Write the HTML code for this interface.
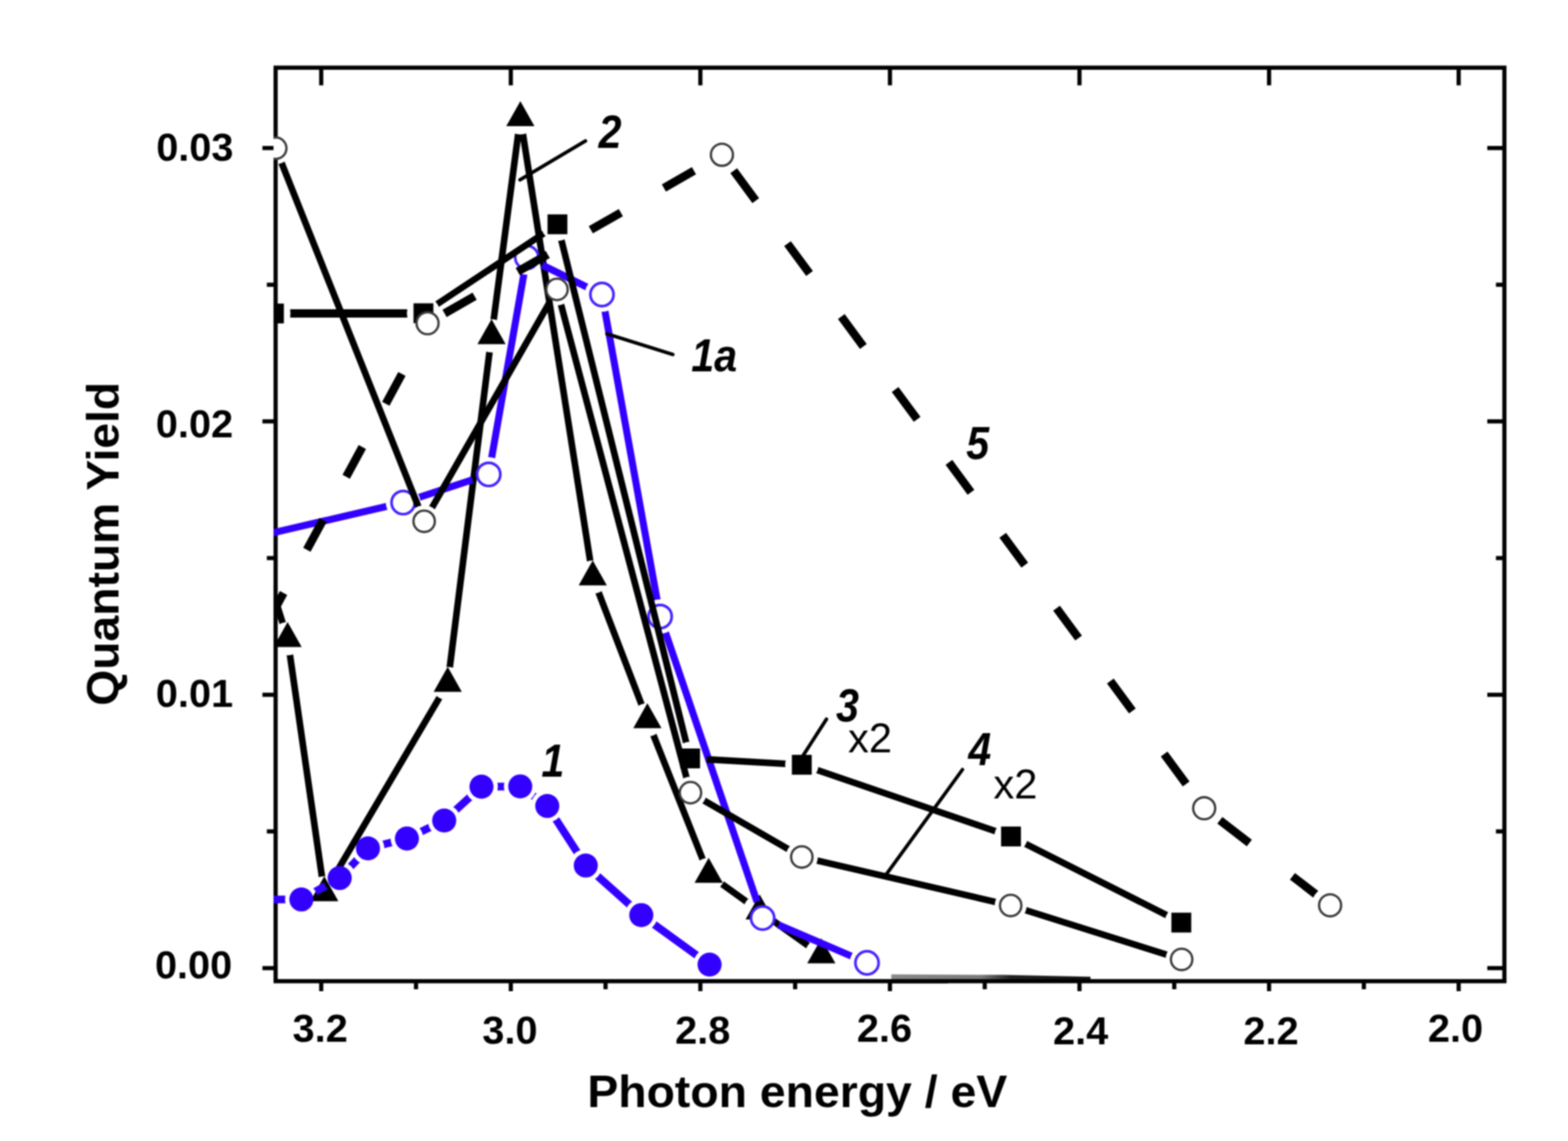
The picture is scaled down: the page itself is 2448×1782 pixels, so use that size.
<!DOCTYPE html><html><head><meta charset="utf-8"><title>Quantum Yield vs Photon energy</title><style>html,body{margin:0;padding:0;background:#fff;}svg{display:block;filter:blur(0.9px);}</style></head><body>
<svg width="2448" height="1782" viewBox="0 0 2448 1782">
<defs>
<clipPath id="pc"><rect x="427" y="102" width="1925" height="1434"/></clipPath>
<mask id="m1" maskUnits="userSpaceOnUse" x="0" y="0" width="2448" height="1782"><rect x="0" y="0" width="2448" height="1782" fill="#fff"/>
<circle cx="395.0" cy="1404.5" r="25.5" fill="#000"/>
<circle cx="470.5" cy="1404.8" r="25.5" fill="#000"/>
<circle cx="530.3" cy="1371.3" r="25.5" fill="#000"/>
<circle cx="574.5" cy="1325.0" r="25.5" fill="#000"/>
<circle cx="635.3" cy="1309.6" r="25.5" fill="#000"/>
<circle cx="693.5" cy="1281.5" r="25.5" fill="#000"/>
<circle cx="751.7" cy="1228.6" r="25.5" fill="#000"/>
<circle cx="812.2" cy="1228.2" r="25.5" fill="#000"/>
<circle cx="854.4" cy="1258.8" r="25.5" fill="#000"/>
<circle cx="914.5" cy="1351.8" r="25.5" fill="#000"/>
<circle cx="1001.2" cy="1429.2" r="25.5" fill="#000"/>
<circle cx="1107.8" cy="1506.5" r="25.5" fill="#000"/>
</mask>
<mask id="m1a" maskUnits="userSpaceOnUse" x="0" y="0" width="2448" height="1782"><rect x="0" y="0" width="2448" height="1782" fill="#fff"/>
<circle cx="380.0" cy="842.8" r="27.0" fill="#000"/>
<circle cx="629.4" cy="784.9" r="27.0" fill="#000"/>
<circle cx="763.0" cy="740.9" r="27.0" fill="#000"/>
<circle cx="822.5" cy="402.0" r="27.0" fill="#000"/>
<circle cx="939.8" cy="460.0" r="27.0" fill="#000"/>
<circle cx="1030.6" cy="962.9" r="27.0" fill="#000"/>
<circle cx="1190.6" cy="1433.8" r="27.0" fill="#000"/>
<circle cx="1353.6" cy="1503.7" r="27.0" fill="#000"/>
</mask>
<mask id="m2" maskUnits="userSpaceOnUse" x="0" y="0" width="2448" height="1782"><rect x="0" y="0" width="2448" height="1782" fill="#fff"/>
<circle cx="400.0" cy="842.0" r="26.0" fill="#000"/>
<circle cx="449.0" cy="997.5" r="26.0" fill="#000"/>
<circle cx="506.3" cy="1394.4" r="26.0" fill="#000"/>
<circle cx="699.0" cy="1067.5" r="26.0" fill="#000"/>
<circle cx="767.4" cy="524.5" r="26.0" fill="#000"/>
<circle cx="812.4" cy="184.0" r="26.0" fill="#000"/>
<circle cx="925.4" cy="901.3" r="26.0" fill="#000"/>
<circle cx="1010.7" cy="1124.2" r="26.0" fill="#000"/>
<circle cx="1106.4" cy="1365.8" r="26.0" fill="#000"/>
<circle cx="1186.0" cy="1423.0" r="26.0" fill="#000"/>
<circle cx="1282.3" cy="1491.6" r="26.0" fill="#000"/>
</mask>
<mask id="m3" maskUnits="userSpaceOnUse" x="0" y="0" width="2448" height="1782"><rect x="0" y="0" width="2448" height="1782" fill="#fff"/>
<circle cx="427.7" cy="489.6" r="26.0" fill="#000"/>
<circle cx="661.1" cy="489.2" r="26.0" fill="#000"/>
<circle cx="870.3" cy="350.3" r="26.0" fill="#000"/>
<circle cx="1077.4" cy="1184.5" r="26.0" fill="#000"/>
<circle cx="1251.8" cy="1194.4" r="26.0" fill="#000"/>
<circle cx="1578.4" cy="1306.4" r="26.0" fill="#000"/>
<circle cx="1844.3" cy="1440.9" r="26.0" fill="#000"/>
</mask>
<mask id="m4" maskUnits="userSpaceOnUse" x="0" y="0" width="2448" height="1782"><rect x="0" y="0" width="2448" height="1782" fill="#fff"/>
<circle cx="430.5" cy="231.5" r="25.0" fill="#000"/>
<circle cx="662.2" cy="814.2" r="25.0" fill="#000"/>
<circle cx="869.6" cy="452.0" r="25.0" fill="#000"/>
<circle cx="1078.0" cy="1238.0" r="25.0" fill="#000"/>
<circle cx="1251.8" cy="1338.4" r="25.0" fill="#000"/>
<circle cx="1577.9" cy="1414.2" r="25.0" fill="#000"/>
<circle cx="1844.8" cy="1498.4" r="25.0" fill="#000"/>
</mask>
<mask id="m5" maskUnits="userSpaceOnUse" x="0" y="0" width="2448" height="1782"><rect x="0" y="0" width="2448" height="1782" fill="#fff"/>
<circle cx="667.5" cy="504.8" r="29.0" fill="#000"/>
<circle cx="1127.1" cy="241.7" r="29.0" fill="#000"/>
<circle cx="1880.0" cy="1262.3" r="29.0" fill="#000"/>
<circle cx="2076.6" cy="1413.9" r="29.0" fill="#000"/>
</mask>
</defs>
<rect x="0" y="0" width="2448" height="1782" fill="#fff"/>
<g clip-path="url(#pc)">
<defs><linearGradient id="gl" x1="1391" y1="0" x2="1703" y2="0" gradientUnits="userSpaceOnUse"><stop offset="0" stop-color="#8a8a8a"/><stop offset="0.45" stop-color="#7a7a7a"/><stop offset="0.6" stop-color="#222"/><stop offset="1" stop-color="#111"/></linearGradient></defs>
<path d="M1391.5 1521.8 L1565 1522.6 L1702.5 1525.4 L1702.5 1530 L1391.5 1530 Z" fill="url(#gl)"/>
<path d="M1391.5 1534 L1480 1534 L1480 1536.5 L1391.5 1538.5 Z" fill="#222"/>
</g>
<g stroke="#000" stroke-width="6.5" fill="none" stroke-linecap="butt">
<rect x="430.3" y="105.7" width="1918.4" height="1426.7" stroke-linejoin="miter"/>
<line x1="501.5" y1="1532.4" x2="501.5" y2="1548"/>
<line x1="501.5" y1="105.7" x2="501.5" y2="133.3"/>
<line x1="649.5" y1="1532.4" x2="649.5" y2="1545"/>
<line x1="797.5" y1="1532.4" x2="797.5" y2="1548"/>
<line x1="797.5" y1="105.7" x2="797.5" y2="133.3"/>
<line x1="945.4" y1="1532.4" x2="945.4" y2="1545"/>
<line x1="1093.4" y1="1532.4" x2="1093.4" y2="1548"/>
<line x1="1093.4" y1="105.7" x2="1093.4" y2="133.3"/>
<line x1="1241.4" y1="1532.4" x2="1241.4" y2="1545"/>
<line x1="1389.4" y1="1532.4" x2="1389.4" y2="1548"/>
<line x1="1389.4" y1="105.7" x2="1389.4" y2="133.3"/>
<line x1="1537.4" y1="1532.4" x2="1537.4" y2="1545"/>
<line x1="1685.3" y1="1532.4" x2="1685.3" y2="1548"/>
<line x1="1685.3" y1="105.7" x2="1685.3" y2="133.3"/>
<line x1="1833.3" y1="1532.4" x2="1833.3" y2="1545"/>
<line x1="1981.3" y1="1532.4" x2="1981.3" y2="1548"/>
<line x1="1981.3" y1="105.7" x2="1981.3" y2="133.3"/>
<line x1="2129.3" y1="1532.4" x2="2129.3" y2="1545"/>
<line x1="2277.3" y1="1532.4" x2="2277.3" y2="1548"/>
<line x1="2277.3" y1="105.7" x2="2277.3" y2="133.3"/>
<line x1="409.7" y1="1512.0" x2="430.3" y2="1512.0"/>
<line x1="2322" y1="1512.0" x2="2348.7" y2="1512.0"/>
<line x1="416.6" y1="1298.5" x2="430.3" y2="1298.5"/>
<line x1="2335.5" y1="1298.5" x2="2348.7" y2="1298.5"/>
<line x1="409.7" y1="1085.1" x2="430.3" y2="1085.1"/>
<line x1="2322" y1="1085.1" x2="2348.7" y2="1085.1"/>
<line x1="416.6" y1="871.6" x2="430.3" y2="871.6"/>
<line x1="2335.5" y1="871.6" x2="2348.7" y2="871.6"/>
<line x1="409.7" y1="658.1" x2="430.3" y2="658.1"/>
<line x1="2322" y1="658.1" x2="2348.7" y2="658.1"/>
<line x1="416.6" y1="444.7" x2="430.3" y2="444.7"/>
<line x1="2335.5" y1="444.7" x2="2348.7" y2="444.7"/>
<line x1="409.7" y1="231.2" x2="430.3" y2="231.2"/>
<line x1="2322" y1="231.2" x2="2348.7" y2="231.2"/>
</g>
<g font-family="Liberation Sans, Arial, sans-serif" font-weight="bold" font-size="62" fill="#000">
<text x="456.7" y="1627.0">3.2</text>
<text x="753.0" y="1630.1">3.0</text>
<text x="1054.1" y="1630.1">2.8</text>
<text x="1337.7" y="1627.0">2.6</text>
<text x="1644.0" y="1630.7">2.4</text>
<text x="1941.2" y="1630.7">2.2</text>
<text x="2229.3" y="1627.0">2.0</text>
<text x="243.9" y="251.1">0.03</text>
<text x="243.3" y="682.8">0.02</text>
<text x="243.3" y="1103.8">0.01</text>
<text x="241.9" y="1528.2">0.00</text>
</g>
<text x="916.9" y="1729" font-family="Liberation Sans, Arial, sans-serif" font-weight="bold" font-size="71" textLength="655.6" lengthAdjust="spacingAndGlyphs" fill="#000">Photon energy / eV</text>
<text transform="translate(185,1102.3) rotate(-90)" x="0" y="0" font-family="Liberation Sans, Arial, sans-serif" font-weight="bold" font-size="71" textLength="506" lengthAdjust="spacingAndGlyphs" fill="#000">Quantum Yield</text>
<g clip-path="url(#pc)">
<polyline points="400.0,842.0 449.0,997.5 506.3,1394.4 699.0,1067.5 767.4,524.5 812.4,184.0 925.4,901.3 1010.7,1124.2 1106.4,1365.8 1186.0,1423.0 1282.3,1491.6" fill="none" stroke="#000" stroke-width="10.3" stroke-linejoin="miter" mask="url(#m2)"/>
<path d="M400.0 816.0L422.0 855.0L378.0 855.0Z" fill="#000"/>
<path d="M449.0 971.5L471.0 1010.5L427.0 1010.5Z" fill="#000"/>
<path d="M506.3 1368.4L528.3 1407.4L484.3 1407.4Z" fill="#000"/>
<path d="M699.0 1041.5L721.0 1080.5L677.0 1080.5Z" fill="#000"/>
<path d="M767.4 498.5L789.4 537.5L745.4 537.5Z" fill="#000"/>
<path d="M812.4 158.0L834.4 197.0L790.4 197.0Z" fill="#000"/>
<path d="M925.4 875.3L947.4 914.3L903.4 914.3Z" fill="#000"/>
<path d="M1010.7 1098.2L1032.7 1137.2L988.7 1137.2Z" fill="#000"/>
<path d="M1106.4 1339.8L1128.4 1378.8L1084.4 1378.8Z" fill="#000"/>
<path d="M1186.0 1397.0L1208.0 1436.0L1164.0 1436.0Z" fill="#000"/>
<path d="M1282.3 1465.6L1304.3 1504.6L1260.3 1504.6Z" fill="#000"/>
<polyline points="380.0,842.8 629.4,784.9 763.0,740.9 822.5,402.0 939.8,460.0 1030.6,962.9 1190.6,1433.8 1353.6,1503.7" fill="none" stroke="#3300ff" stroke-width="11" stroke-linejoin="miter" mask="url(#m1a)"/>
<circle cx="380.0" cy="842.8" r="18.1" fill="#fff" stroke="#4422ff" stroke-width="4.2"/>
<circle cx="629.4" cy="784.9" r="18.1" fill="#fff" stroke="#4422ff" stroke-width="4.2"/>
<circle cx="763.0" cy="740.9" r="18.1" fill="#fff" stroke="#4422ff" stroke-width="4.2"/>
<circle cx="822.5" cy="402.0" r="18.1" fill="#fff" stroke="#4422ff" stroke-width="4.2"/>
<circle cx="939.8" cy="460.0" r="18.1" fill="#fff" stroke="#4422ff" stroke-width="4.2"/>
<circle cx="1030.6" cy="962.9" r="18.1" fill="#fff" stroke="#4422ff" stroke-width="4.2"/>
<circle cx="1190.6" cy="1433.8" r="18.1" fill="#fff" stroke="#4422ff" stroke-width="4.2"/>
<circle cx="1353.6" cy="1503.7" r="18.1" fill="#fff" stroke="#4422ff" stroke-width="4.2"/>
<polyline points="430.5,231.5 662.2,814.2 869.6,452.0 1078.0,1238.0 1251.8,1338.4 1577.9,1414.2 1844.8,1498.4" fill="none" stroke="#000" stroke-width="10.3" stroke-linejoin="miter" mask="url(#m4)"/>
<polyline points="427.7,489.6 661.1,489.2 870.3,350.3 1077.4,1184.5 1251.8,1194.4 1578.4,1306.4 1844.3,1440.9" fill="none" stroke="#000" stroke-width="10.3" stroke-linejoin="miter" mask="url(#m3)"/>
<line x1="430" y1="489.6" x2="640" y2="489.4" stroke="#000" stroke-width="13" mask="url(#m3)"/>
<g stroke="#000" stroke-width="13" stroke-linecap="butt" mask="url(#m5)">
<line x1="417.5" y1="972.7" x2="442.7" y2="926.1"/>
<line x1="479.1" y1="858.7" x2="504.3" y2="812.1"/>
<line x1="540.5" y1="744.7" x2="565.7" y2="698.1"/>
<line x1="602.3" y1="630.6" x2="627.5" y2="584.0"/>
<line x1="694.1" y1="489.5" x2="741.0" y2="462.7"/><line x1="808.3" y1="424.2" x2="855.1" y2="397.4"/><line x1="922.4" y1="358.9" x2="969.3" y2="332.1"/><line x1="1036.5" y1="293.6" x2="1083.4" y2="266.7"/>
<line x1="1145.5" y1="266.6" x2="1179.9" y2="313.3"/><line x1="1229.5" y1="380.5" x2="1263.9" y2="427.2"/><line x1="1313.5" y1="494.4" x2="1347.9" y2="541.1"/><line x1="1397.5" y1="608.3" x2="1431.9" y2="654.9"/><line x1="1481.5" y1="722.1" x2="1515.9" y2="768.8"/><line x1="1565.5" y1="836.0" x2="1599.9" y2="882.7"/><line x1="1649.5" y1="949.9" x2="1683.9" y2="996.5"/><line x1="1733.5" y1="1063.7" x2="1767.9" y2="1110.4"/><line x1="1817.5" y1="1177.6" x2="1851.9" y2="1224.3"/>
<line x1="1904.5" y1="1281.2" x2="1950.5" y2="1316.6"/><line x1="2017.8" y1="1368.6" x2="2063.7" y2="1404.0"/>
</g>
<circle cx="430.5" cy="231.5" r="16.7" fill="#fff" stroke="#3a3a3a" stroke-width="3.6"/>
<circle cx="662.2" cy="814.2" r="16.7" fill="#fff" stroke="#3a3a3a" stroke-width="3.6"/>
<circle cx="869.6" cy="452.0" r="16.7" fill="#fff" stroke="#3a3a3a" stroke-width="3.6"/>
<circle cx="1078.0" cy="1238.0" r="16.7" fill="#fff" stroke="#3a3a3a" stroke-width="3.6"/>
<circle cx="1251.8" cy="1338.4" r="16.7" fill="#fff" stroke="#3a3a3a" stroke-width="3.6"/>
<circle cx="1577.9" cy="1414.2" r="16.7" fill="#fff" stroke="#3a3a3a" stroke-width="3.6"/>
<circle cx="1844.8" cy="1498.4" r="16.7" fill="#fff" stroke="#3a3a3a" stroke-width="3.6"/>
<rect x="412.2" y="474.1" width="31" height="31" fill="#000"/>
<rect x="645.6" y="473.7" width="31" height="31" fill="#000"/>
<rect x="854.8" y="334.8" width="31" height="31" fill="#000"/>
<rect x="1061.9" y="1169.0" width="31" height="31" fill="#000"/>
<rect x="1236.3" y="1178.9" width="31" height="31" fill="#000"/>
<rect x="1562.9" y="1290.9" width="31" height="31" fill="#000"/>
<rect x="1828.8" y="1425.4" width="31" height="31" fill="#000"/>
<circle cx="667.5" cy="504.8" r="17.2" fill="#fff" stroke="#3a3a3a" stroke-width="3.6"/>
<circle cx="1127.1" cy="241.7" r="17.2" fill="#fff" stroke="#3a3a3a" stroke-width="3.6"/>
<circle cx="1880.0" cy="1262.3" r="17.2" fill="#fff" stroke="#3a3a3a" stroke-width="3.6"/>
<circle cx="2076.6" cy="1413.9" r="17.2" fill="#fff" stroke="#3a3a3a" stroke-width="3.6"/>
<polyline points="395.0,1404.5 470.5,1404.8 530.3,1371.3 574.5,1325.0 635.3,1309.6 693.5,1281.5 751.7,1228.6 812.2,1228.2 854.4,1258.8 914.5,1351.8 1001.2,1429.2 1107.8,1506.5" fill="none" stroke="#3300ff" stroke-width="12" stroke-linejoin="miter" mask="url(#m1)"/>
<circle cx="395.0" cy="1404.5" r="18.8" fill="#3300ff"/>
<circle cx="470.5" cy="1404.8" r="18.8" fill="#3300ff"/>
<circle cx="530.3" cy="1371.3" r="18.8" fill="#3300ff"/>
<circle cx="574.5" cy="1325.0" r="18.8" fill="#3300ff"/>
<circle cx="635.3" cy="1309.6" r="18.8" fill="#3300ff"/>
<circle cx="693.5" cy="1281.5" r="18.8" fill="#3300ff"/>
<circle cx="751.7" cy="1228.6" r="18.8" fill="#3300ff"/>
<circle cx="812.2" cy="1228.2" r="18.8" fill="#3300ff"/>
<circle cx="854.4" cy="1258.8" r="18.8" fill="#3300ff"/>
<circle cx="914.5" cy="1351.8" r="18.8" fill="#3300ff"/>
<circle cx="1001.2" cy="1429.2" r="18.8" fill="#3300ff"/>
<circle cx="1107.8" cy="1506.5" r="18.8" fill="#3300ff"/>
</g>
<g stroke="#000" stroke-width="5.5" stroke-linecap="round">
<line x1="811.8" y1="280.8" x2="914" y2="220.2"/>
<line x1="947.6" y1="521.3" x2="1050.4" y2="553.6"/>
<line x1="1253.5" y1="1180.4" x2="1290.3" y2="1123.2"/>
<line x1="1384" y1="1365.2" x2="1502.6" y2="1202"/>
</g>
<text transform="translate(934.6,231.1) scale(0.9,1)" font-family="Liberation Sans, Arial, sans-serif" font-weight="bold" font-style="italic" font-size="71.5" fill="#000">2</text>
<text transform="translate(1079.3,580.3) scale(0.9,1)" font-family="Liberation Sans, Arial, sans-serif" font-weight="bold" font-style="italic" font-size="71.5" fill="#000">1a</text>
<text transform="translate(1508.6,716.8) scale(0.9,1)" font-family="Liberation Sans, Arial, sans-serif" font-weight="bold" font-style="italic" font-size="71.5" fill="#000">5</text>
<text transform="translate(1305.2,1126.8) scale(0.9,1)" font-family="Liberation Sans, Arial, sans-serif" font-weight="bold" font-style="italic" font-size="71.5" fill="#000">3</text>
<text transform="translate(1511.8,1195.0) scale(0.9,1)" font-family="Liberation Sans, Arial, sans-serif" font-weight="bold" font-style="italic" font-size="71.5" fill="#000">4</text>
<text transform="translate(845.2,1213.1) scale(0.9,1)" font-family="Liberation Sans, Arial, sans-serif" font-weight="bold" font-style="italic" font-size="71.5" fill="#000">1</text>
<g font-family="Liberation Sans, Arial, sans-serif" font-size="65" fill="#000">
<text x="1324.1" y="1175.2">x2</text>
<text x="1551.1" y="1246.6">x2</text>
</g>
</svg></body></html>
